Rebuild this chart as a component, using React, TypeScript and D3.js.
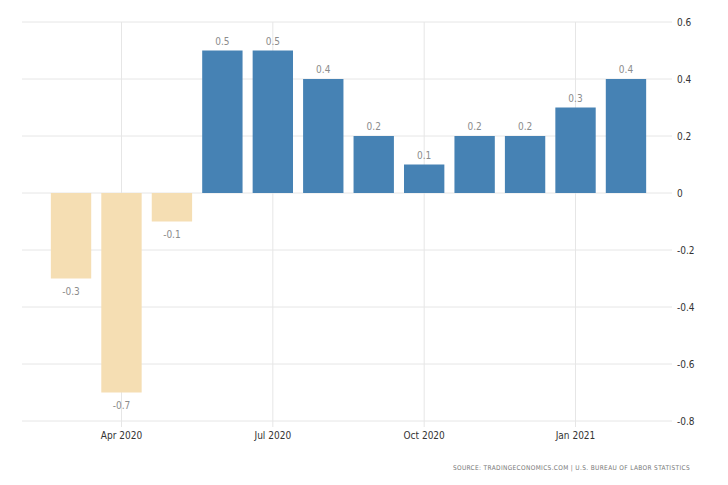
import React from "react";
import * as d3 from "d3";

const months = ["2020-03","2020-04","2020-05","2020-06","2020-07","2020-08","2020-09","2020-10","2020-11","2020-12","2021-01","2021-02"];
const values = [-0.3,-0.7,-0.1,0.5,0.5,0.4,0.2,0.1,0.2,0.2,0.3,0.4];
const yTicks = [0.6,0.4,0.2,0,-0.2,-0.4,-0.6,-0.8];
const xTickMonths = ["2020-04","2020-07","2020-10","2021-01"];
const xTickLabels = ["Apr 2020","Jul 2020","Oct 2020","Jan 2021"];
const source = "SOURCE: TRADINGECONOMICS.COM | U.S. BUREAU OF LABOR STATISTICS";

const W = 728, H = 485;
const font = "'DejaVu Sans Condensed', 'DejaVu Sans', sans-serif";

export default function App() {
  const x = d3.scaleBand<string>().domain(months).range([45.8, 651.2]).paddingInner(0.2).paddingOuter(0.1);
  const y = d3.scaleLinear().domain([-0.8, 0.6]).range([421, 22]);
  const fmt = (v: number) => (v === 0 ? "0" : d3.format(".1f")(v).replace("\u2212", "-"));
  const cx = (m: string) => (x(m) as number) + x.bandwidth() / 2;
  return (
    <svg width={W} height={H} style={{ position: "absolute", left: 0, top: 0, background: "#fff" }}>
      {yTicks.map((t) => (
        <g key={t}>
          <line x1={22} x2={672} y1={y(t)} y2={y(t)} stroke="#e6e6e6" strokeWidth={1} />
          <text x={677} y={y(t)} dy="0.35em" fontFamily={font} fontSize={10} fill="#333">{fmt(t)}</text>
        </g>
      ))}
      {xTickMonths.map((m, i) => (
        <g key={m}>
          <line x1={cx(m)} x2={cx(m)} y1={22} y2={427} stroke="#e6e6e6" strokeWidth={1} />
          <text x={cx(m)} y={439} textAnchor="middle" fontFamily={font} fontSize={10} fill="#333">{xTickLabels[i]}</text>
        </g>
      ))}
      {months.map((m, i) => {
        const v = values[i];
        const top = y(Math.max(0, v));
        const bot = y(Math.min(0, v));
        return (
          <g key={m}>
            <rect x={x(m)} y={top} width={x.bandwidth()} height={bot - top} fill={v >= 0 ? "#4682b4" : "#f5deb3"} />
            <text x={cx(m)} y={v >= 0 ? top - 6 : bot + 16} textAnchor="middle" fontFamily={font} fontSize={10} fill="#8c8c8c">{fmt(v)}</text>
          </g>
        );
      })}
      <text x={690} y={470} textAnchor="end" fontFamily={font} fontSize={6.5} fill="#777" letterSpacing={0.35}>{source}</text>
    </svg>
  );
}
